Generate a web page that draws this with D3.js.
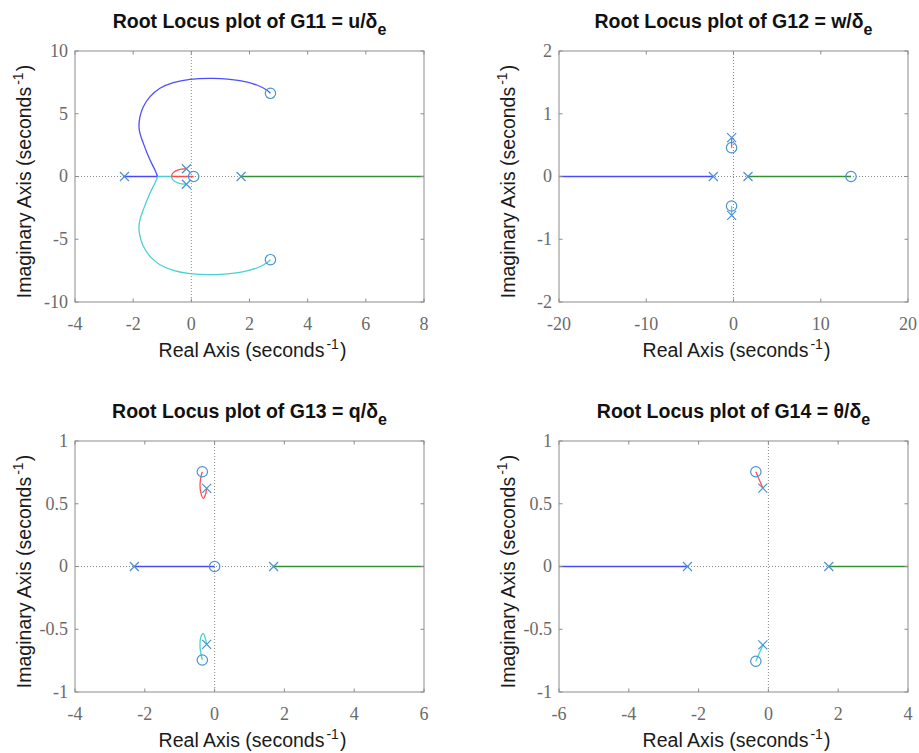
<!DOCTYPE html>
<html>
<head>
<meta charset="utf-8">
<script src="https://cdn.jsdelivr.net/npm/d3@7"></script>
<style>
  html, body { margin: 0; padding: 0; background: #fff; }
  svg { display: block; }
  .tick-label { font-family: "Liberation Serif", "DejaVu Serif", serif; font-size: 18px; fill: #6a6a6a; }
  .lab { font-family: "Liberation Sans", Arial, sans-serif; fill: #1a1a1a; }
</style>
</head>
<body>
<svg id="chart" width="919" height="753"></svg>
<script>
// ---------------- DATA ----------------
// Panel titles (main text + subscript)
const titles = [
  ["Root Locus plot of G11 = u/δ", "e"],
  ["Root Locus plot of G12 = w/δ", "e"],
  ["Root Locus plot of G13 = q/δ", "e"],
  ["Root Locus plot of G14 = θ/δ", "e"]
];
const xLabelText = ["Real Axis (seconds", "-1", ")"];
const yLabelText = ["Imaginary Axis (seconds", "-1", ")"];

// Axis limits and tick values
const g11XDomain = [-4, 8],  g11YDomain = [-10, 10];
const g12XDomain = [-20, 20], g12YDomain = [-2, 2];
const g13XDomain = [-4, 6],  g13YDomain = [-1, 1];
const g14XDomain = [-6, 4],  g14YDomain = [-1, 1];

const g11XTicks = [-4, -2, 0, 2, 4, 6, 8],  g11YTicks = [-10, -5, 0, 5, 10];
const g12XTicks = [-20, -10, 0, 10, 20],    g12YTicks = [-2, -1, 0, 1, 2];
const g13XTicks = [-4, -2, 0, 2, 4, 6],     g13YTicks = [-1, -0.5, 0, 0.5, 1];
const g14XTicks = [-6, -4, -2, 0, 2, 4],    g14YTicks = [-1, -0.5, 0, 0.5, 1];

// Poles and zeros [real, imag]
const g11Poles = [[-2.3, 0], [1.71, 0], [-0.17, 0.62], [-0.17, -0.62]];
const g11Zeros = [[0.08, 0], [2.72, 6.63], [2.72, -6.63]];
const g12Poles = [[-2.31, 0], [1.66, 0], [-0.21, 0.62], [-0.21, -0.62]];
const g12Zeros = [[13.47, 0], [-0.22, 0.46], [-0.22, -0.47]];
const g13Poles = [[-2.3, 0], [1.69, 0], [-0.227, 0.623], [-0.227, -0.62]];
const g13Zeros = [[0, 0], [-0.352, 0.755], [-0.352, -0.745]];
const g14Poles = [[-2.32, 0], [1.73, 0], [-0.16, 0.625], [-0.16, -0.625]];
const g14Zeros = [[-0.36, 0.755], [-0.36, -0.755]];

// Locus branches (order: branch 1, 2, 3, 4)
const g11Branch1 = [[-2.3, 0], [-1.16, 0], [-1.25, 0.52], [-1.42, 1.31], [-1.65, 2.64], [-1.765, 3.44],
  [-1.80, 3.97], [-1.765, 4.77], [-1.65, 5.56], [-1.42, 6.36], [-1.08, 7.03], [-0.62, 7.48],
  [-0.046, 7.74], [0.756, 7.82], [1.67, 7.64], [2.25, 7.29], [2.59, 6.89], [2.72, 6.63]];
const g11Branch2 = [[1.71, 0], [100, 0]];
const g11Branch3 = [[-0.17, 0.62], [-0.448, 0.52], [-0.62, 0.31], [-0.68, 0.04], [-0.68, 0], [0.08, 0]];
const g11Branch4 = [[-0.17, -0.62], [-0.448, -0.52], [-0.62, -0.31], [-0.68, -0.04], [-0.68, 0], [-1.16, 0],
  [-1.25, -0.52], [-1.42, -1.31], [-1.65, -2.64], [-1.765, -3.44], [-1.80, -3.97], [-1.765, -4.77],
  [-1.65, -5.56], [-1.42, -6.36], [-1.08, -7.03], [-0.62, -7.48], [-0.046, -7.74], [0.756, -7.82],
  [1.67, -7.64], [2.25, -7.29], [2.59, -6.89], [2.72, -6.63]];

const g12Branch1 = [[-2.31, 0], [-100, 0]];
const g12Branch2 = [[1.66, 0], [13.47, 0]];
const g12Branch3 = [[-0.21, 0.62], [-0.22, 0.46]];
const g12Branch4 = [[-0.21, -0.62], [-0.22, -0.47]];

const g13Branch1 = [[-2.3, 0], [0, 0]];
const g13Branch2 = [[1.69, 0], [100, 0]];
const g13Branch3 = [[-0.227, 0.623], [-0.266, 0.57], [-0.324, 0.543], [-0.39, 0.583], [-0.418, 0.649],
  [-0.39, 0.716], [-0.352, 0.755]];
const g13Branch4 = [[-0.227, -0.62], [-0.275, -0.565], [-0.324, -0.533], [-0.39, -0.559], [-0.418, -0.639],
  [-0.39, -0.697], [-0.352, -0.745]];

const g14Branch1 = [[-2.32, 0], [-100, 0]];
const g14Branch2 = [[1.73, 0], [100, 0]];
const g14Branch3 = [[-0.16, 0.625], [-0.36, 0.755]];
const g14Branch4 = [[-0.16, -0.625], [-0.36, -0.755]];

// ---------------- DRAWING ----------------
const branchColors = ["#3a3aff", "#1f8a1f", "#ff3b3b", "#36cccc"];
const markerColor = "#4a93d4";
const axisColor = "#8c8c8c";

const svg = d3.select("#chart");

const panels = [
  { left: 75,  top: 51,  title: titles[0], xd: g11XDomain, yd: g11YDomain, xt: g11XTicks, yt: g11YTicks,
    poles: g11Poles, zeros: g11Zeros, branches: [g11Branch1, g11Branch2, g11Branch3, g11Branch4] },
  { left: 559, top: 51,  title: titles[1], xd: g12XDomain, yd: g12YDomain, xt: g12XTicks, yt: g12YTicks,
    poles: g12Poles, zeros: g12Zeros, branches: [g12Branch1, g12Branch2, g12Branch3, g12Branch4] },
  { left: 75,  top: 441, title: titles[2], xd: g13XDomain, yd: g13YDomain, xt: g13XTicks, yt: g13YTicks,
    poles: g13Poles, zeros: g13Zeros, branches: [g13Branch1, g13Branch2, g13Branch3, g13Branch4] },
  { left: 559, top: 441, title: titles[3], xd: g14XDomain, yd: g14YDomain, xt: g14XTicks, yt: g14YTicks,
    poles: g14Poles, zeros: g14Zeros, branches: [g14Branch1, g14Branch2, g14Branch3, g14Branch4] }
];

const W = 349, H = 251;

// split a branch into runs lying on the real axis (straight) and off-axis runs (smooth)
function splitRuns(b) {
  const runs = [];
  let cur = [b[0]], curOnAxis = null;
  for (let k = 1; k < b.length; k++) {
    const seg = (b[k - 1][1] === 0 && b[k][1] === 0);
    if (curOnAxis === null || seg === curOnAxis) {
      cur.push(b[k]); curOnAxis = seg;
    } else {
      runs.push({ axis: curOnAxis, pts: cur });
      cur = [b[k - 1], b[k]]; curOnAxis = seg;
    }
  }
  runs.push({ axis: curOnAxis, pts: cur });
  return runs;
}

panels.forEach((p, i) => {
  const g = svg.append("g").attr("transform", `translate(${p.left},${p.top})`);
  const x = d3.scaleLinear().domain(p.xd).range([0, W]);
  const y = d3.scaleLinear().domain(p.yd).range([H, 0]);

  const clipId = "clip" + i;
  g.append("clipPath").attr("id", clipId)
    .append("rect").attr("x", 0).attr("y", 0).attr("width", W).attr("height", H);

  const plot = g.append("g").attr("clip-path", `url(#${clipId})`);
  plot.append("line").attr("x1", x(0)).attr("x2", x(0)).attr("y1", 0).attr("y2", H)
    .attr("stroke", "#8a8a8a").attr("stroke-width", 1).attr("stroke-dasharray", "1,2");
  plot.append("line").attr("x1", 0).attr("x2", W).attr("y1", y(0)).attr("y2", y(0))
    .attr("stroke", "#8a8a8a").attr("stroke-width", 1).attr("stroke-dasharray", "1,2");

  const smooth = d3.line().x(d => x(d[0])).y(d => y(d[1])).curve(d3.curveCatmullRom.alpha(0.5));
  const straight = d3.line().x(d => x(d[0])).y(d => y(d[1]));
  p.branches.forEach((b, bi) => {
    const d = splitRuns(b).map(r => (r.axis ? straight : smooth)(r.pts)).join("");
    plot.append("path").attr("d", d).attr("fill", "none")
      .attr("stroke", branchColors[bi]).attr("stroke-width", 1.3).attr("stroke-opacity", 0.9)
      .attr("stroke-linejoin", "round");
  });

  const s = 4.5;
  p.poles.forEach(pt => {
    const cx = x(pt[0]), cy = y(pt[1]);
    plot.append("path").attr("d", `M${cx - s},${cy - s}L${cx + s},${cy + s}M${cx - s},${cy + s}L${cx + s},${cy - s}`)
      .attr("stroke", markerColor).attr("stroke-width", 1.2).attr("fill", "none");
  });
  p.zeros.forEach(pt => {
    plot.append("circle").attr("cx", x(pt[0])).attr("cy", y(pt[1])).attr("r", 5.2)
      .attr("fill", "none").attr("stroke", markerColor).attr("stroke-width", 1.2);
  });

  g.append("rect").attr("width", W).attr("height", H).attr("fill", "none")
    .attr("stroke", axisColor).attr("stroke-width", 1);

  const tl = 3.5;
  p.xt.forEach(v => {
    const xx = x(v);
    g.append("line").attr("x1", xx).attr("x2", xx).attr("y1", H).attr("y2", H - tl).attr("stroke", axisColor);
    g.append("line").attr("x1", xx).attr("x2", xx).attr("y1", 0).attr("y2", tl).attr("stroke", axisColor);
  });
  p.yt.forEach(v => {
    const yy = y(v);
    g.append("line").attr("x1", 0).attr("x2", tl).attr("y1", yy).attr("y2", yy).attr("stroke", axisColor);
    g.append("line").attr("x1", W).attr("x2", W - tl).attr("y1", yy).attr("y2", yy).attr("stroke", axisColor);
  });

  g.selectAll(".xtl").data(p.xt).enter().append("text").attr("class", "tick-label")
    .attr("x", d => x(d)).attr("y", H + 28).attr("text-anchor", "middle").text(d => String(d));
  g.selectAll(".ytl").data(p.yt).enter().append("text").attr("class", "tick-label")
    .attr("x", -7).attr("y", d => y(d)).attr("dy", "0.33em").attr("text-anchor", "end").text(d => String(d));

  const t = g.append("text").attr("class", "lab").attr("x", W / 2).attr("y", -23).attr("text-anchor", "middle")
    .style("font-size", "19.5px").style("font-weight", "bold").style("fill", "#111");
  t.append("tspan").text(p.title[0]);
  t.append("tspan").attr("dy", 7).style("font-size", "16px").text(p.title[1]);

  const xl = g.append("text").attr("class", "lab").attr("x", W / 2 + 3).attr("y", H + 55).attr("text-anchor", "middle")
    .style("font-size", "19.5px");
  xl.append("tspan").text(xLabelText[0]);
  xl.append("tspan").attr("dx", 2).attr("dy", -8).style("font-size", "14px").text(xLabelText[1]);
  xl.append("tspan").attr("dx", 1).attr("dy", 8).text(xLabelText[2]);

  const yl = g.append("text").attr("class", "lab").attr("transform", `translate(-44,${H / 2 + 5}) rotate(-90)`)
    .attr("text-anchor", "middle").style("font-size", "19.5px");
  yl.append("tspan").text(yLabelText[0]);
  yl.append("tspan").attr("dx", 2).attr("dy", -8).style("font-size", "14px").text(yLabelText[1]);
  yl.append("tspan").attr("dx", 1).attr("dy", 8).text(yLabelText[2]);
});
</script>
</body>
</html>
